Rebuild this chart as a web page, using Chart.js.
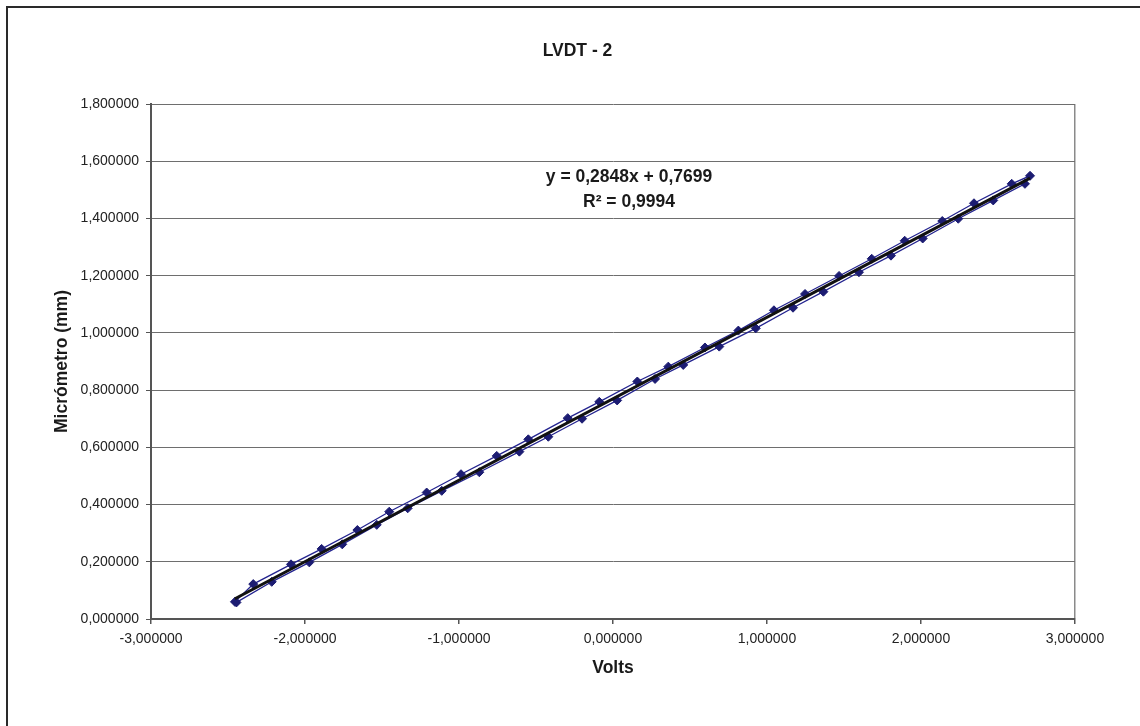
<!DOCTYPE html>
<html>
<head>
<meta charset="utf-8">
<script src="https://cdn.jsdelivr.net/npm/chart.js@4.4.1/dist/chart.umd.min.js"></script>
<style>
  html, body { margin: 0; padding: 0; background: #fff; }
  #wrap { position: relative; width: 1140px; height: 726px; overflow: hidden; }
  #frame { position: absolute; left: 6px; top: 6px; width: 1200px; height: 800px;
           border-left: 2px solid #2a2a2a; border-top: 2px solid #2a2a2a; }
  canvas { position: absolute; left: 0; top: 0; }
</style>
</head>
<body>
<div id="wrap">
  <div id="frame"></div>
  <canvas id="c" width="1140" height="726"></canvas>
</div>
<script>
// ---- Data (one series, up sweep then down sweep) ----
const volts = [-2.455, -2.336, -2.091, -1.892, -1.660, -1.453, -1.210, -0.987, -0.755, -0.550,
               -0.294, -0.089, 0.158, 0.359, 0.597, 0.814, 1.045, 1.247, 1.468, 1.680,
               1.894, 2.138, 2.344, 2.589, 2.708,
               2.675, 2.469, 2.242, 2.011, 1.805, 1.597, 1.366, 1.169, 0.927, 0.690,
               0.456, 0.273, 0.027, -0.201, -0.420, -0.608, -0.868, -1.112, -1.333, -1.534,
               -1.758, -1.972, -2.216, -2.445];
const micrometro = [0.060, 0.122, 0.191, 0.245, 0.311, 0.375, 0.442, 0.506, 0.570, 0.628,
                    0.702, 0.759, 0.830, 0.882, 0.949, 1.008, 1.079, 1.136, 1.199, 1.259,
                    1.322, 1.391, 1.453, 1.521, 1.549,
                    1.521, 1.463, 1.399, 1.330, 1.270, 1.212, 1.144, 1.088, 1.016, 0.952,
                    0.888, 0.839, 0.764, 0.700, 0.637, 0.585, 0.513, 0.448, 0.387, 0.329,
                    0.261, 0.198, 0.130, 0.058];
// Linear trendline end points (as drawn in the reference)
const trendX = [-2.455, 2.708];
const trendY = [0.0707, 1.5411];
const equationText = ["y = 0,2848x + 0,7699", "R² = 0,9994"];
const yTicks = [0, 0.2, 0.4, 0.6, 0.8, 1.0, 1.2, 1.4, 1.6, 1.8];
const xTicks = [-3, -2, -1, 0, 1, 2, 3];
const titleText = "LVDT - 2";
const xTitle = "Volts";
const yTitle = "Micrómetro (mm)";

const FONT = "'Liberation Sans', Arial, Helvetica, sans-serif";
const fmt = v => Number(v).toFixed(6).replace('.', ',');

const seriesData = volts.map((x, i) => ({ x: x, y: micrometro[i] }));
const trendData = trendX.map((x, i) => ({ x: x, y: trendY[i] }));

const equationPlugin = {
  id: 'equation',
  afterDatasetsDraw(chart) {
    const ctx = chart.ctx;
    ctx.save();
    ctx.font = "bold 17.5px " + FONT;
    ctx.fillStyle = '#1a1a1a';
    ctx.textAlign = 'center';
    ctx.textBaseline = 'middle';
    ctx.fillText(equationText[0], 629, 177);
    ctx.fillText(equationText[1], 629, 202);
    ctx.restore();
  }
};

new Chart(document.getElementById('c'), {
  type: 'scatter',
  data: {
    datasets: [
      {
        label: 'Linear',
        data: trendData,
        showLine: true,
        borderColor: '#111111',
        borderWidth: 3,
        pointRadius: 0,
        pointHoverRadius: 0,
        fill: false
      },
      {
        label: 'LVDT - 2',
        data: seriesData,
        showLine: true,
        borderColor: '#23238f',
        borderWidth: 1.3,
        backgroundColor: '#1c1c72',
        pointBackgroundColor: '#1c1c72',
        pointBorderColor: '#1c1c72',
        pointStyle: 'rectRot',
        pointRadius: 4.5,
        pointBorderWidth: 1,
        fill: false,
        tension: 0
      }
    ]
  },
  options: {
    responsive: false,
    animation: false,
    devicePixelRatio: 1,
    layout: { padding: { left: 15, right: 0, top: 0, bottom: 0 } },
    plugins: {
      legend: { display: false },
      tooltip: { enabled: false },
      title: {
        display: true,
        text: titleText,
        color: '#1a1a1a',
        font: { family: FONT, size: 17.5, weight: 'bold', lineHeight: 1.2 },
        padding: { top: 41, bottom: 42 }
      }
    },
    scales: {
      x: {
        type: 'linear',
        min: -3, max: 3,
        afterBuildTicks(scale) { scale.ticks = xTicks.map(v => ({ value: v })); },
        afterFit(scale) { scale.height = 726 - 619; },
        ticks: {
          callback: v => fmt(v),
          color: '#222',
          font: { family: FONT, size: 14 },
          padding: 7,
          maxRotation: 0,
          autoSkip: false
        },
        grid: {
          color: ctx => (ctx.index === xTicks.length - 1 ? '#8a8a8a' : 'rgba(0,0,0,0)'),
          tickColor: '#555',
          tickLength: 5,
          lineWidth: 1.5
        },
        border: { display: true, color: '#555', width: 2 },
        title: {
          display: true,
          text: xTitle,
          color: '#1a1a1a',
          font: { family: FONT, size: 17.5, weight: 'bold', lineHeight: 1.2 },
          padding: { top: 0, bottom: 47.5 }
        }
      },
      y: {
        type: 'linear',
        position: 'left',
        min: 0, max: 1.8,
        afterBuildTicks(scale) { scale.ticks = yTicks.map(v => ({ value: v })); },
        afterFit(scale) { scale.width = 151 - 15; },
        ticks: {
          callback: v => fmt(v),
          color: '#222',
          font: { family: FONT, size: 14 },
          padding: 7,
          autoSkip: false
        },
        grid: {
          color: '#6e6e6e',
          tickColor: '#555',
          tickLength: 5,
          lineWidth: 1
        },
        border: { display: true, color: '#555', width: 2 },
        title: {
          display: true,
          text: yTitle,
          color: '#1a1a1a',
          font: { family: FONT, size: 17.5, weight: 'bold', lineHeight: 1.2 },
          padding: { top: 36.5, bottom: 0 }
        }
      },
      yRight: {
        type: 'linear',
        position: 'right',
        min: 0, max: 1.8,
        display: true,
        afterFit(scale) { scale.width = 1140 - 1075; },
        ticks: { display: false },
        grid: { drawOnChartArea: false, drawTicks: false },
        border: { display: false }
      }
    }
  },
  plugins: [equationPlugin]
});
</script>
</body>
</html>
